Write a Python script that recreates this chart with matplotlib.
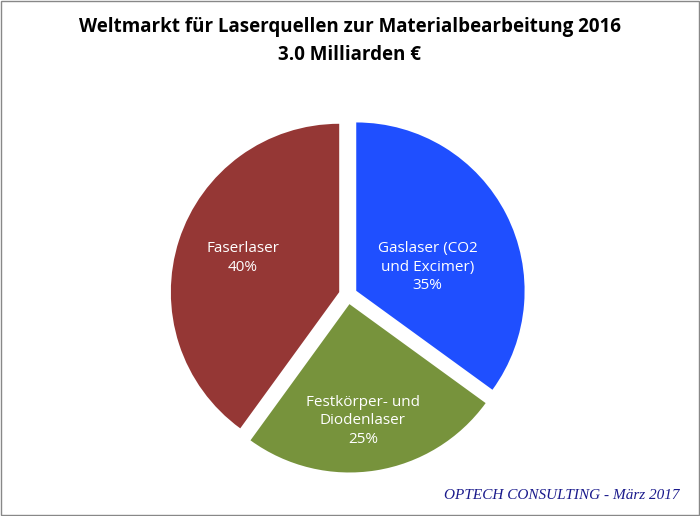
import matplotlib.pyplot as plt
from matplotlib.patches import Rectangle

labels = ["Gaslaser (CO2\nund Excimer)", "Festkörper- und\nDiodenlaser", "Faserlaser"]
shares = [35, 25, 40]
colors = ["#1f4fff", "#77933c", "#953735"]

fig = plt.figure(figsize=(7, 5.16), dpi=100)
fig.patches.append(Rectangle((0.002, 0.002), 0.996, 0.996, transform=fig.transFigure,
                             fill=False, edgecolor="#888888", linewidth=1))

ax = fig.add_axes([348/700 - 185/700, 1 - (295 + 185)/516, 370/700, 370/516])
wedges, texts = ax.pie(shares, colors=colors, startangle=90, counterclock=False,
                       explode=[0.05, 0.05, 0.05], radius=0.91,
                       wedgeprops=dict(edgecolor="none"))
ax.set_xlim(-1, 1)
ax.set_ylim(-1, 1)
ax.set_aspect("equal")
ax.axis("off")

label_pos = [(0.43, 0.15), (0.08, -0.68), (-0.57, 0.2)]
for (x, y), lab, s in zip(label_pos, labels, shares):
    ax.text(x, y, f"{lab}\n{s}%", ha="center", va="center", color="white",
            fontsize=11, family="Open Sans", linespacing=1.3)

fig.text(0.5, 0.948, "Weltmarkt für Laserquellen zur Materialbearbeitung 2016",
         ha="center", va="center", fontsize=13.5, fontweight="bold", family="Open Sans")
fig.text(0.5, 0.893, "3.0 Milliarden €", ha="center", va="center",
         fontsize=13.5, fontweight="bold", family="Open Sans")
fig.text(0.97, 0.04, "OPTECH CONSULTING - März 2017", ha="right", va="center",
         fontsize=11, style="italic", family="Liberation Serif", color="#1a1a8c")

fig.savefig("out.png", dpi=100)
